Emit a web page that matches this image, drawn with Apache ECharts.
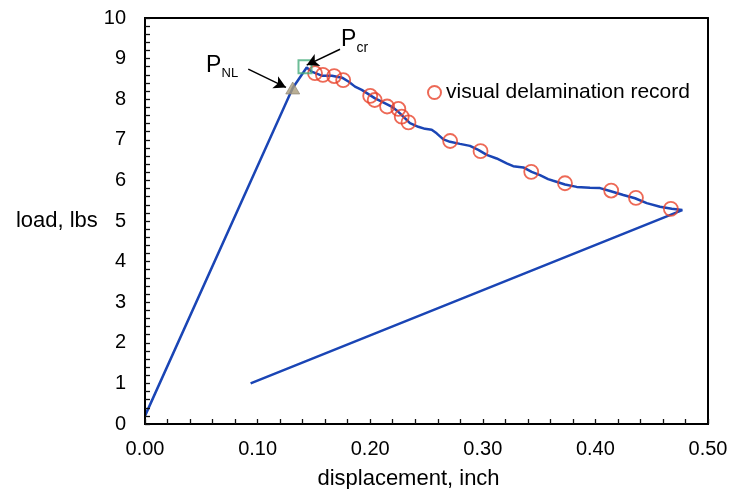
<!DOCTYPE html>
<html>
<head>
<meta charset="utf-8">
<script src="https://cdn.jsdelivr.net/npm/echarts@6/dist/echarts.min.js"></script>
<style>
  html, body { margin: 0; padding: 0; background: #fff; }
  .layer { position: absolute; left: 0; top: 0; width: 732px; height: 489px; }
  #ticks { pointer-events: none; }
</style>
</head>
<body>
<div id="chart" class="layer"></div>
<div id="ticks" class="layer"></div>
<script>
// Load–displacement record: loading, softening after delamination onset, then unloading
const curveDisp = [0.000, 0.1312, 0.1436, 0.148, 0.157, 0.166, 0.175, 0.181, 0.1865,
  0.1925, 0.1998, 0.2043, 0.2102, 0.219, 0.225, 0.231, 0.2353, 0.2427, 0.2487,
  0.2546, 0.259, 0.265, 0.2709, 0.2797, 0.2886, 0.296, 0.3035, 0.3123, 0.3212,
  0.327, 0.336, 0.3434, 0.3508, 0.358, 0.3626, 0.373, 0.3834, 0.3952, 0.4041,
  0.413, 0.4248, 0.4352, 0.4456, 0.4574, 0.4678, 0.4772, 0.0938];
const curveLoad = [0.20, 8.276, 8.78, 8.68, 8.58, 8.58, 8.53, 8.43, 8.31,
  8.23, 8.10, 8.02, 7.94, 7.82, 7.69, 7.53, 7.41, 7.32, 7.27,
  7.25, 7.16, 7.01, 6.95, 6.90, 6.85, 6.75, 6.63, 6.54, 6.42,
  6.35, 6.32, 6.21, 6.13, 6.03, 5.99, 5.90, 5.84, 5.82, 5.81,
  5.74, 5.64, 5.56, 5.44, 5.35, 5.30, 5.27, 1.00];

// Visually recorded delamination growth
const delamDisp = [0.151, 0.158, 0.168, 0.176, 0.200, 0.204, 0.215, 0.225, 0.228, 0.234,
  0.271, 0.298, 0.343, 0.373, 0.414, 0.436, 0.467];
const delamLoad = [8.64, 8.60, 8.57, 8.47, 8.08, 7.98, 7.82, 7.76, 7.57, 7.43,
  6.97, 6.72, 6.21, 5.93, 5.75, 5.57, 5.30];

// Onset of nonlinearity and critical load
const pNL = [0.1312, 8.276];
const pCr = [0.1421, 8.80];

// Annotation arrows: [from, to] in data units
const arrowNL = [[0.0917, 8.74], [0.1252, 8.29]];
const arrowCr = [[0.1732, 9.23], [0.1436, 8.84]];
// Annotation text anchors in data units (left edge, vertical middle)
const labelNL = { main: [0.0546, 8.818], sub: [0.0684, 8.633], text: 'NL' };
const labelCr = { main: [0.1745, 9.446], sub: [0.1883, 9.237], text: 'cr' };

const xTicks = [0, 0.1, 0.2, 0.3, 0.4, 0.5];
const yTicks = [0, 1, 2, 3, 4, 5, 6, 7, 8, 9, 10];

const FONT = '"Liberation Sans", Arial, Helvetica, sans-serif';
const GRID = { left: 145, right: 24, top: 18, bottom: 65, outerBoundsMode: 'none' };

const xRange = { min: xTicks[0], max: xTicks[xTicks.length - 1], interval: xTicks[1] - xTicks[0] };
const yRange = { min: yTicks[0], max: yTicks[yTicks.length - 1], interval: yTicks[1] - yTicks[0] };

function mainAxis(extra) {
  return Object.assign({
    type: 'value',
    axisLine: { show: true, onZero: false, lineStyle: { color: '#000', width: 2 } },
    axisTick: { show: false },
    minorTick: { show: false },
    splitLine: { show: false }
  }, extra);
}

// Plain frame lines on the top and right sides
function frameAxis(extra) {
  return Object.assign({
    type: 'value',
    axisLine: { show: true, onZero: false, lineStyle: { color: '#000', width: 2 } },
    axisTick: { show: false },
    minorTick: { show: false },
    axisLabel: { show: false },
    splitLine: { show: false }
  }, extra);
}

function textMark(coord, text, size) {
  return {
    coord: coord,
    label: {
      show: true, formatter: text, position: [0, 0], align: 'left', verticalAlign: 'middle',
      color: '#000', fontFamily: FONT, fontSize: size
    }
  };
}

const chart = echarts.init(document.getElementById('chart'));
chart.setOption({
  animation: false,
  grid: GRID,
  legend: {
    data: ['visual delamination record'],
    left: 422, top: 77,
    itemWidth: 13, itemHeight: 13,
    textStyle: { color: '#000', fontFamily: FONT, fontSize: 21 }
  },
  xAxis: [
    mainAxis(Object.assign({}, xRange, {
      position: 'bottom',
      name: 'displacement, inch', nameLocation: 'middle', nameGap: 44,
      nameTextStyle: { color: '#000', fontFamily: FONT, fontSize: 22, padding: [0, 36, 0, 0] },
      axisLabel: { color: '#000', fontFamily: FONT, fontSize: 20, margin: 15, formatter: v => v.toFixed(2) }
    })),
    frameAxis(Object.assign({}, xRange, { position: 'top' }))
  ],
  yAxis: [
    mainAxis(Object.assign({}, yRange, {
      position: 'left',
      name: 'load, lbs', nameLocation: 'middle', nameRotate: 0, nameGap: 44,
      nameTextStyle: { color: '#000', fontFamily: FONT, fontSize: 22 },
      axisLabel: { color: '#000', fontFamily: FONT, fontSize: 20, margin: 19 }
    })),
    frameAxis(Object.assign({}, yRange, { position: 'right' }))
  ],
  series: [
    {
      name: 'load',
      type: 'line',
      data: curveDisp.map((x, i) => [x, curveLoad[i]]),
      showSymbol: false,
      symbol: 'none',
      lineStyle: { color: '#1a45b5', width: 2.5 },
      z: 2,
      markLine: {
        silent: true,
        symbol: ['none', 'arrow'],
        symbolSize: [10, 12],
        label: { show: false },
        lineStyle: { color: '#000', width: 1.5, type: 'solid' },
        data: [
          [{ coord: arrowNL[0] }, { coord: arrowNL[1] }],
          [{ coord: arrowCr[0] }, { coord: arrowCr[1] }]
        ]
      },
      markPoint: {
        silent: true,
        symbol: 'circle',
        symbolSize: 1,
        itemStyle: { color: 'rgba(0,0,0,0)' },
        data: [
          textMark(labelNL.main, 'P', 23),
          textMark(labelNL.sub, labelNL.text, 13),
          textMark(labelCr.main, 'P', 23),
          textMark(labelCr.sub, labelCr.text, 14)
        ]
      }
    },
    {
      name: 'visual delamination record',
      type: 'scatter',
      data: delamDisp.map((x, i) => [x, delamLoad[i]]),
      symbol: 'circle',
      symbolSize: 14,
      itemStyle: { color: 'rgba(255,255,255,0)', borderColor: '#e8432c', borderWidth: 1.8 },
      z: 3
    },
    {
      name: 'P_NL',
      type: 'scatter',
      data: [pNL],
      symbol: 'triangle',
      symbolSize: [14, 12],
      itemStyle: { color: '#a99b79', borderColor: '#8c8270', borderWidth: 0.8 },
      z: 4
    },
    {
      name: 'P_cr',
      type: 'scatter',
      data: [pCr],
      symbol: 'rect',
      symbolSize: 13,
      itemStyle: { color: 'rgba(255,255,255,0)', borderColor: '#48ad7d', borderWidth: 2 },
      z: 4
    }
  ]
});

// Inward major and minor tick marks, drawn on a transparent layer sharing the same grid
function tickAxis(range) {
  return Object.assign({
    type: 'value',
    axisLine: { show: true, lineStyle: { color: '#000', width: 2 } },
    axisTick: { show: true, inside: true, length: 5, lineStyle: { color: '#111', width: 1.3 } },
    minorTick: { show: true, splitNumber: 5, length: 5, lineStyle: { color: '#111', width: 1.3 } },
    axisLabel: { color: 'rgba(0,0,0,0)' },
    splitLine: { show: false }
  }, range);
}
const tickLayer = echarts.init(document.getElementById('ticks'));
tickLayer.setOption({
  animation: false,
  grid: GRID,
  xAxis: tickAxis(xRange),
  yAxis: tickAxis(yRange),
  series: [{ type: 'line', data: [], symbol: 'none', silent: true }]
});
</script>
</body>
</html>
